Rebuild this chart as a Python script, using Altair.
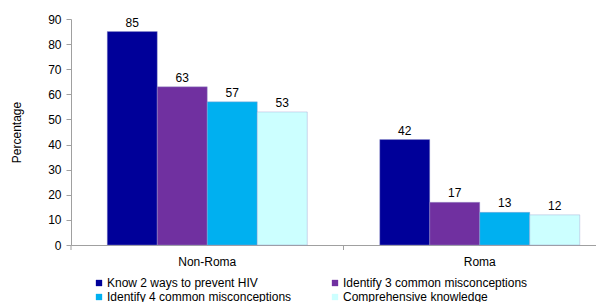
import altair as alt
import pandas as pd

categories = ["Non-Roma", "Roma"]
series = [
    "Know 2 ways to prevent HIV",
    "Identify 3 common misconceptions",
    "Identify 4 common misconceptions",
    "Comprehensive knowledge",
]
non_roma = [85, 63, 57, 53]
roma = [42, 17, 13, 12]
colors = ["#000099", "#7030A0", "#00B0F0", "#CCFFFF"]
y_ticks = list(range(0, 91, 10))

rows = []
for cat, vals in zip(categories, [non_roma, roma]):
    for s, v in zip(series, vals):
        rows.append({"group": cat, "series": s, "value": v})
df = pd.DataFrame(rows)

FONT = "Liberation Sans"

x_enc = alt.X(
    "group:N",
    sort=categories,
    scale=alt.Scale(domain=categories, paddingInner=0, paddingOuter=0, range=[0, 545]),
    axis=alt.Axis(
        title=None,
        labelAngle=0,
        ticks=False,
        labelPadding=11,
        labelFontSize=12,
        domainColor="#A0A0A0",
        labelColor="#000000",
    ),
)
xoff_enc = alt.XOffset(
    "series:N",
    sort=series,
    scale=alt.Scale(domain=series, paddingInner=0, paddingOuter=0.725),
)
y_enc = alt.Y(
    "value:Q",
    scale=alt.Scale(domain=[0, 90], nice=False),
    axis=alt.Axis(
        values=y_ticks,
        title="Percentage",
        grid=False,
        tickSize=5,
        labelPadding=5,
        labelFontSize=12,
        titleFontSize=12,
        titleFontWeight="normal",
        titlePadding=24,
        domainColor="#A0A0A0",
        tickColor="#A0A0A0",
        labelColor="#000000",
        titleColor="#000000",
    ),
)

base = alt.Chart(df).encode(x=x_enc, xOffset=xoff_enc, y=y_enc)

bars = base.mark_bar(stroke="#9999cc", strokeWidth=0.4).encode(
    color=alt.Color(
        "series:N",
        sort=series,
        scale=alt.Scale(domain=series, range=colors),
        legend=alt.Legend(
            title=None,
            orient="none",
            legendX=22,
            legendY=258,
            columns=2,
            direction="horizontal",
            columnPadding=37,
            rowPadding=2,
            symbolType="square",
            symbolSize=40,
            symbolStrokeWidth=0,
            labelFontSize=12,
            labelFont=FONT,
            labelOffset=2,
            labelLimit=400,
            padding=0,
        ),
    )
)

text = base.mark_text(
    baseline="bottom", dy=-2, fontSize=12, font=FONT, color="#000000"
).encode(text="value:Q")

sep = (
    alt.Chart(pd.DataFrame({"group": categories}))
    .mark_rule(color="#A0A0A0")
    .encode(
        x=alt.X("group:N", sort=categories, bandPosition=0),
        y=alt.value(226),
        y2=alt.value(231),
    )
)

chart = (
    alt.layer(bars, text, sep)
    .properties(
        width=525,
        height=226,
        autosize=alt.AutoSizeParams(type="none"),
        padding={"left": 63, "top": 11, "right": 0, "bottom": 57},
    )
    .configure_view(stroke=None)
    .configure_axis(labelFont=FONT, titleFont=FONT)
    .configure_legend(labelFont=FONT)
)

chart.save("out.html", embed_options={"renderer": "svg", "actions": False})
